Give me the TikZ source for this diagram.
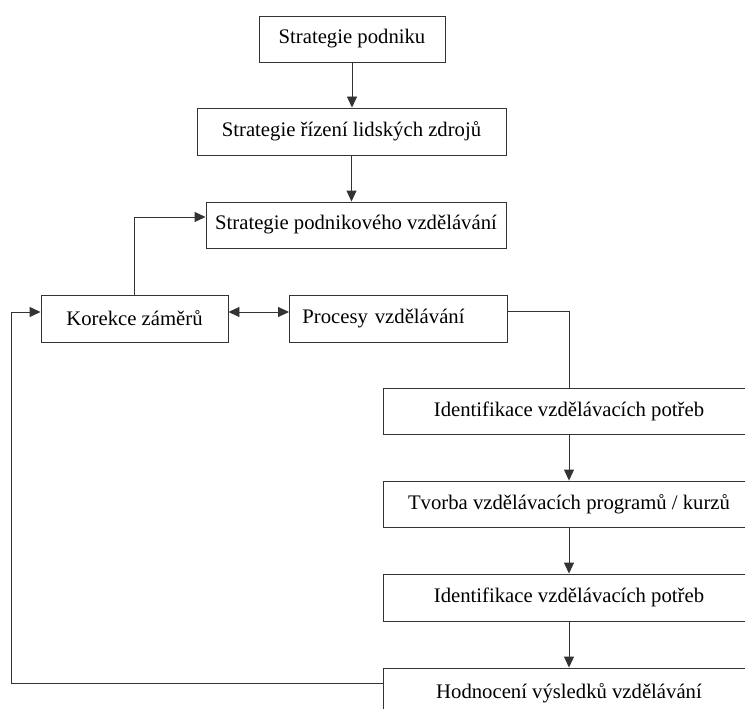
\documentclass[tikz,border=0pt]{standalone}
\usepackage{fontspec}
\setmainfont{Liberation Serif}
\usetikzlibrary{arrows.meta,positioning}

\tikzset{
  box/.style={draw=black!80, line width=0.9pt, fill=white, rectangle,
    inner sep=0pt, font=\fontsize{20.7}{24}\selectfont},
  link/.style={draw=black!80, line width=0.9pt},
  tip/.style={Triangle[length=11pt,width=10pt]},
  arr/.style={link, -{Triangle[length=11pt,width=10pt]}},
  arrboth/.style={link, {Triangle[length=11pt,width=10pt]}-{Triangle[length=11pt,width=10pt]}}
}

\begin{document}
\begin{tikzpicture}[x=1pt, y=-1pt]
  \clip (0,0) rectangle (745,709);
  \fill[white] (0,0) rectangle (745,709);

  % strategy chain
  \node[box, minimum width=186pt, minimum height=46pt] (sp) at (352,39) {Strategie podniku};
  \node[box, minimum width=309pt, minimum height=47pt] (srlz) at (351.5,131.5) {Strategie řízení lidských zdrojů};
  \node[box, minimum width=300pt, minimum height=46pt] (spv) at (356,225) {Strategie podnikového vzdělávání};

  % middle row
  \node[box, minimum width=187pt, minimum height=47pt] (kz) at (134.5,318.5) {Korekce záměrů};
  \node[box, anchor=west, minimum height=47pt, text width=192pt, align=left, inner xsep=13pt] (pv) at (289,318.5) {Procesy vzdělávání};

  % process steps
  \node[box, minimum width=372pt, minimum height=46pt] (ivp) at (569,411) {Identifikace vzdělávacích potřeb};
  \node[box, minimum width=372pt, minimum height=46pt] (tvp) at (569,504) {Tvorba vzdělávacích programů / kurzů};
  \node[box, minimum width=372pt, minimum height=47pt] (ivp2) at (569,597.5) {Identifikace vzdělávacích potřeb};
  \node[box, minimum width=372pt, minimum height=50pt] (hvv) at (569,693) {Hodnocení výsledků vzdělávání};

  % connector bend points
  \coordinate (fbx) at (11,0);
  \coordinate (kzin) at ([yshift=6.5pt]kz.west);
  \coordinate (kzout) at ([yshift=6.5pt]kz.east);
  \coordinate (pvin) at ([yshift=6.5pt]pv.west);
  \coordinate (pvout) at ([yshift=7.5pt]pv.east);
  \coordinate (spvin) at ([yshift=8pt]spv.west);
  \coordinate (hvvout) at ([yshift=10pt]hvv.west);

  % connectors
  \draw[arr] (sp.south) -- (sp.south |- srlz.north);
  \draw[arr] (srlz.south) -- (srlz.south |- spv.north);
  \draw[arr] (kz.north) |- (spvin);
  \draw[arrboth] (kzout) -- (pvin);
  \draw[link] (pvout) -| (ivp.north);
  \draw[arr] (ivp.south) -- (tvp.north);
  \draw[arr] (tvp.south) -- (ivp2.north);
  \draw[arr] (ivp2.south) -- (hvv.north);
  \draw[arr] (hvvout) -| (fbx |- kzin) -- (kzin);
\end{tikzpicture}
\end{document}
